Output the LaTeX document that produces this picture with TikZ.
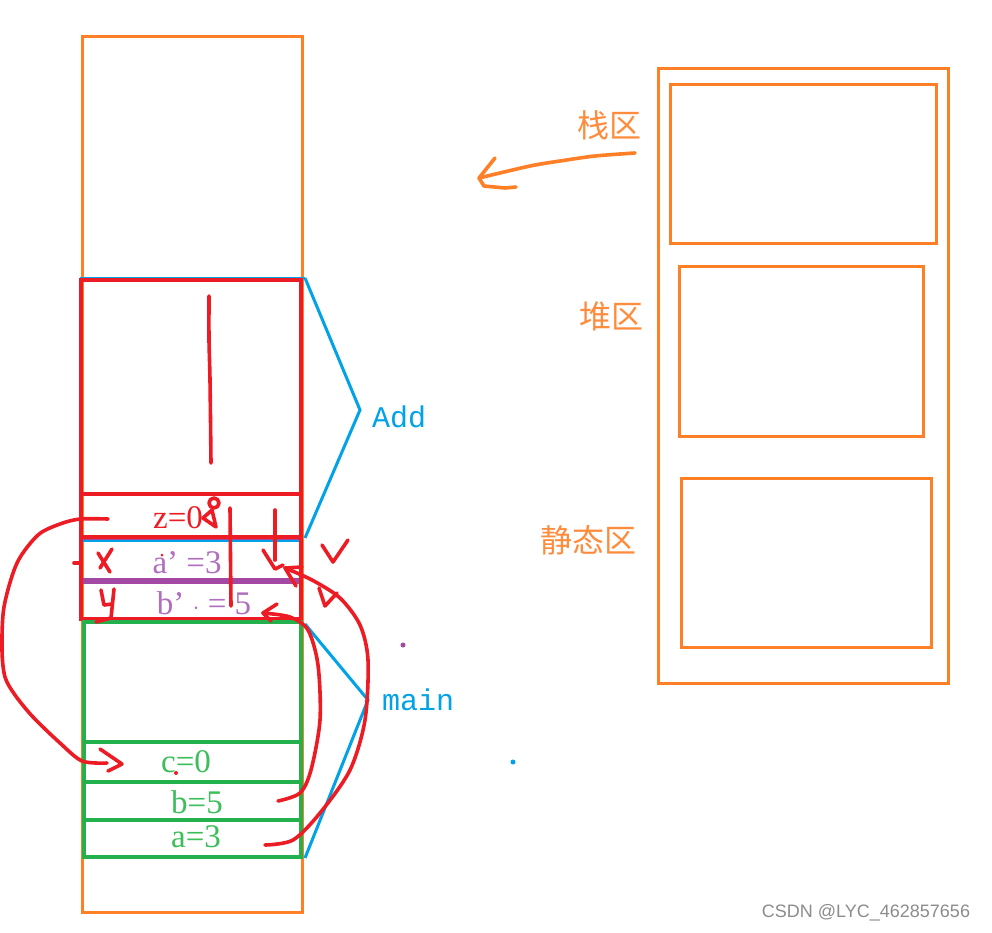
\documentclass[tikz,border=0pt]{standalone}
\usepackage{fontspec}
\setmainfont{Liberation Serif}
\newfontfamily\cjk{Noto Sans CJK SC}
\newfontfamily\codefont{Liberation Mono}
\newfontfamily\wmfont{Liberation Sans}
\usepackage{tikz}
\usetikzlibrary{positioning}
\definecolor{pt-orange}{RGB}{255,127,39}
\definecolor{pt-orangetxt}{RGB}{255,140,60}
\definecolor{pt-blue}{RGB}{0,162,232}
\definecolor{pt-red}{RGB}{237,28,36}
\definecolor{pt-green}{RGB}{34,177,76}
\definecolor{pt-greentxt}{RGB}{60,190,90}
\definecolor{pt-purple}{RGB}{163,73,164}
\definecolor{pt-purpletxt}{RGB}{175,110,190}
\tikzset{
  pen/.style={pt-red, line width=3.6pt, line cap=round, line join=round},
  vartxt/.style={inner sep=0pt, font=\fontsize{33}{36}\selectfont},
  areatxt/.style={inner sep=0pt, text=pt-orangetxt, font=\cjk\fontsize{32}{36}\selectfont},
}

\begin{document}
\begin{tikzpicture}[x=1pt,y=-1pt]
    \useasboundingbox[fill=white] (0,0) rectangle (992,932);

    % whole stack column
    \draw[pt-orange, line width=3pt] (82,36) rectangle (302,912);

    % frame of Add
    \draw[pt-purple, line width=2.5pt] (82,540) rectangle (300,619);
    \draw[pt-purple, line width=6pt] (82,581) -- (300,581);
    \draw[pt-blue, line width=2.5pt] (80,278) -- (305,278);
    \draw[pt-blue, line width=2.5pt] (82,541) -- (300,541);
    \draw[pt-red, line width=4pt] (81,280) rectangle (301,619);
    \draw[pt-red, line width=3.5pt] (81,494) -- (301,494);
    \draw[pt-red, line width=3.5pt] (81,537) -- (301,537);

    % frame of main
    \draw[pt-green, line width=4.5pt] (84,622) rectangle (301,857);
    \draw[pt-green, line width=3.5pt] (84,742) -- (301,742);
    \draw[pt-green, line width=4.5pt] (84,782) -- (301,782);
    \draw[pt-green, line width=3.5pt] (84,820) -- (301,820);

    % variables
    \node[vartxt, text=pt-red] (z) at (178,518) {z=0};
    \node[vartxt, text=pt-purpletxt] (ap) at (187,563) {a’ =3};
    \node[vartxt, text=pt-purpletxt] (bp) at (204,603) {b’ $\cdot$ = 5};
    \node[vartxt, text=pt-greentxt] (c) at (186,762) {c=0};
    \node[vartxt, text=pt-greentxt] (b) at (197,802) {b=5};
    \node[vartxt, text=pt-greentxt] (a) at (196,837) {a=3};

    % braces with names
    \coordinate (addtip) at (360,410);
    \coordinate (maintip) at (368,700);
    \draw[pt-blue, line width=3pt] (305,278) -- (addtip) -- (305,538);
    \draw[pt-blue, line width=3pt] (305,624) -- (maintip) -- (305,858);
    \node[right=12pt of addtip, text=pt-blue, font=\codefont\fontsize{30}{34}\selectfont,
          inner sep=0pt, yshift=-7pt] (add) {Add};
    \node[right=14pt of maintip, text=pt-blue, font=\codefont\fontsize{30}{34}\selectfont,
          inner sep=0pt] (main) {main};

    % memory areas
    \draw[pt-orange, line width=3pt] (658,68) rectangle (948,683);
    \draw[pt-orange, line width=3pt] (670,84) rectangle (936,243);
    \draw[pt-orange, line width=3pt] (679,266) rectangle (923,436);
    \draw[pt-orange, line width=3pt] (681,478) rectangle (931,647);
    \node[areatxt] (stack) at (609,125) {栈区};
    \node[areatxt] (heap) at (611,316) {堆区};
    \node[areatxt] (static) at (588,540) {静态区};

    % hand arrow from stack label
    \coordinate (stk0) at (635,153);
    \coordinate (stk1) at (479,178);
    \draw[pt-orange, line width=3.6pt, line cap=round, line join=round]
        plot[smooth] coordinates {(stk0) (595,156) (560,161) (530,166) (stk1)};
    \draw[pt-orange, line width=3.6pt, line cap=round, line join=round]
        (495,158) -- (stk1) -- (484,186) -- (505,188) -- (516,187);

    % scribbles in Add
    \draw[pen] plot[smooth] coordinates {(209,296) (209,340) (210,380) (211,463)};
    \draw[pen] (230,508) -- (231,606);
    \draw[pen] (275,510) -- (275,560);
    \draw[pen] (263,550) -- (275,569) -- (283,565);
    \draw[pen] (214,503) circle (5);
    \draw[pen] (212,510) -- (203,518) -- (216,527) -- cycle;
    \draw[pen] (98,553) -- (110,572);
    \draw[pen] (112,549) -- (100,568);
    \draw[pen] (74,563) -- (80,563);
    \draw[pen] (101,590) -- (104,605) -- (112,604);
    \draw[pen] (114,589) -- (111,618) -- (96,622);
    \draw[pen] (322,545) -- (333,562) -- (348,540);
    \draw[pen] (319,588) -- (325,606) -- (337,593);

    % c gets the return value
    \coordinate (ret0) at (108,519);
    \coordinate (ret1) at (107,763);
    \draw[pen] plot[smooth] coordinates {(ret0) (80,519) (60,524) (38,535) (17,563) (4,607)
        (2,650) (5,677) (15,695) (33,717) (60,743) (82,761) (ret1)};
    \draw[pen] (100,749) -- (122,764) -- (108,771);

    % b is copied to b'
    \coordinate (bsrc) at (278,801);
    \coordinate (bdst) at (263,613);
    \draw[pen] plot[smooth] coordinates {(bsrc) (300,793) (311,770) (320,720) (318,665)
        (308,630) (290,617) (bdst)};
    \draw[pen] (277,604) -- (bdst) -- (271,621);

    % a is copied to a'
    \coordinate (asrc) at (265,845);
    \coordinate (adst) at (285,568);
    \draw[pen] plot[smooth] coordinates {(asrc) (293,840) (320,813) (350,770) (365,720)
        (368,660) (360,625) (340,598) (312,580) (adst)};
    \draw[pen] (296,586) -- (adst) -- (302,567);

    % dots
    \fill[pt-red] (176,773) circle (2);
    \fill[pt-red] (162,555) circle (1.5);
    \fill[pt-purple] (403,645) circle (2.5);
    \fill[pt-blue] (513,762) circle (2.5);

    % watermark
    \node[inner sep=0pt, text=black!45, font=\wmfont\fontsize{18}{20}\selectfont] (wm)
        at (866,913) {CSDN @LYC\_462857656};
\end{tikzpicture}
\end{document}
